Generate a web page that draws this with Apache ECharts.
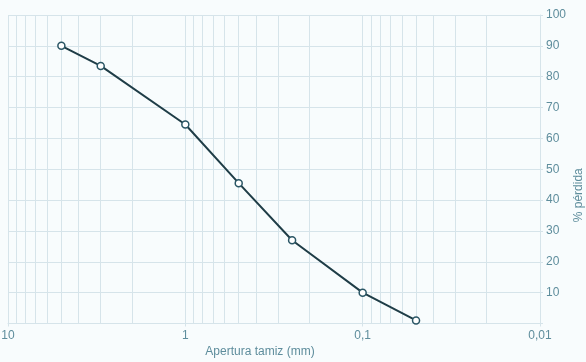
<!DOCTYPE html>
<html><head><meta charset="utf-8">
<style>html,body{margin:0;padding:0;background:#f8fcfd}#c{width:586px;height:362px}</style>
<script src="https://cdn.jsdelivr.net/npm/echarts@6/dist/echarts.min.js"></script>
</head><body><div id="c"></div>
<script>
const sieveSizes = [5, 3, 1, 0.5, 0.25, 0.1, 0.05];
const lossPct = [90, 83.5, 64.5, 45.5, 27, 10, 1];
const minorGridValues = [9, 8, 7, 6, 5, 4, 3, 2, 0.9, 0.8, 0.7, 0.6, 0.5, 0.4, 0.3, 0.2, 0.09, 0.08, 0.07, 0.06, 0.05, 0.04, 0.03, 0.02];
const xLabel = 'Apertura tamiz (mm)';
const yLabel = '% pérdida';

const gridColor = '#d6e4ea';
const textColor = '#5e8d9c';
const chart = echarts.init(document.getElementById('c'), null, {renderer: 'canvas'});
chart.setOption({
  backgroundColor: '#f8fcfd',
  animation: false,
  textStyle: {fontFamily: 'Liberation Sans, Arial, sans-serif'},
  grid: {left: 8, right: 46, top: 15, bottom: 38.5, containLabel: false, outerBoundsMode: 'none'},
  xAxis: {
    type: 'log', logBase: 10, min: 0.01, max: 10, inverse: true,
    name: xLabel, nameLocation: 'middle', nameGap: 22, nameMoveOverlap: false,
    nameTextStyle: {color: textColor, fontSize: 12, padding: [0, 28, 0, 0]},
    axisLine: {show: true, lineStyle: {color: gridColor}},
    axisTick: {show: true, length: 3, lineStyle: {color: gridColor}},
    axisLabel: {color: textColor, fontSize: 12, margin: 6,
      formatter: v => String(+v.toPrecision(6)).replace('.', ',')},
    splitLine: {show: true, lineStyle: {color: gridColor, width: 1}}
  },
  yAxis: {
    type: 'value', position: 'right', min: 0, max: 100, interval: 10,
    name: yLabel, nameLocation: 'middle', nameRotate: 90, nameGap: 33, nameMoveOverlap: false,
    nameTextStyle: {color: textColor, fontSize: 12, padding: [0, 52, 0, 0]},
    axisLine: {show: true, lineStyle: {color: gridColor}},
    axisTick: {show: true, length: 3, lineStyle: {color: gridColor}},
    axisLabel: {color: textColor, fontSize: 12, margin: 6,
      formatter: v => v === 0 ? '' : String(v)},
    splitLine: {show: true, lineStyle: {color: gridColor, width: 1}}
  },
  series: [
    {
      type: 'line', data: [], z: 1, silent: true,
      markLine: {
        silent: true, symbol: 'none', animation: false, z: 1,
        label: {show: false},
        lineStyle: {color: gridColor, width: 1, type: 'solid'},
        emphasis: {disabled: true},
        data: minorGridValues.map(v => ({xAxis: v}))
      }
    },
    {
      type: 'line', z: 10,
      data: sieveSizes.map((s, i) => [s, lossPct[i]]),
      symbol: 'circle', symbolSize: 7,
      lineStyle: {color: '#1f3d47', width: 2},
      itemStyle: {color: '#ffffff', borderColor: '#2a5665', borderWidth: 1.5}
    }
  ]
});
</script>
</body></html>
